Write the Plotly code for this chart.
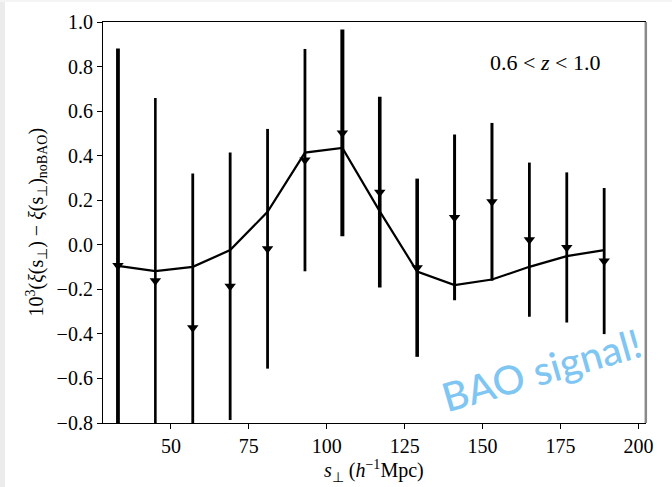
import plotly.graph_objects as go

# Transverse separation bins (h^-1 Mpc)
s_perp = [33, 45, 57, 69, 81, 93, 105, 117, 129, 141, 153, 165, 177, 189]

# Measured BAO feature: 10^3 (xi - xi_noBAO) and 1-sigma errors
xi_meas = [-0.093, -0.162, -0.372, -0.186, -0.018, 0.380, 0.502, 0.236,
           -0.103, 0.123, 0.193, 0.023, -0.012, -0.073]
xi_err = [0.974, 0.821, 0.692, 0.600, 0.538, 0.499, 0.464, 0.428,
          0.400, 0.372, 0.354, 0.346, 0.337, 0.328]

# Best-fit model curve
xi_model = [-0.095, -0.118, -0.099, -0.024, 0.148, 0.414, 0.435, 0.15,
            -0.12, -0.181, -0.156, -0.099, -0.051, -0.024]

# Error bar stroke widths per bin
bar_width = [3.8, 2.6, 2.8, 2.8, 2.8, 2.8, 4.0, 3.6, 3.6, 3.0, 3.0, 2.8, 2.8, 2.8]

y_ticks = [-0.8, -0.6, -0.4, -0.2, 0.0, 0.2, 0.4, 0.6, 0.8, 1.0]
x_ticks = [50, 75, 100, 125, 150, 175, 200]

FONT = "Liberation Serif"

fig = go.Figure()

fig.add_trace(go.Scatter(
    x=s_perp, y=xi_model, mode="lines",
    line=dict(color="black", width=2.2),
    showlegend=False, hoverinfo="skip",
))

for xv, yv, ev, wv in zip(s_perp, xi_meas, xi_err, bar_width):
    fig.add_trace(go.Scatter(
        x=[xv], y=[yv], mode="markers",
        marker=dict(symbol="triangle-down", size=10, color="black"),
        error_y=dict(type="data", array=[ev], visible=True,
                     color="black", thickness=wv, width=0),
        showlegend=False,
    ))

L, R, T, B = 103, 27, 22, 64
W, H = 672, 487
pw, ph = W - L - R, H - T - B

fig.update_layout(
    width=W, height=H,
    margin=dict(l=L, r=R, t=T, b=B),
    paper_bgcolor="white", plot_bgcolor="white",
    font=dict(family=FONT, size=20, color="black"),
    xaxis=dict(
        range=[28.2, 202.1], tickvals=x_ticks, ticks="outside",
        ticklen=5, tickwidth=1, tickcolor="black",
        showline=True, linecolor="black", linewidth=1.2, mirror=True,
        showgrid=False, zeroline=False,
        tickfont=dict(family=FONT, size=20),
    ),
    yaxis=dict(
        range=[-0.8, 1.0], tickvals=y_ticks, tickformat=".1f",
        ticks="outside", ticklen=5, tickwidth=1, tickcolor="black",
        showline=True, linecolor="black", linewidth=1.2, mirror=True,
        showgrid=False, zeroline=False,
        tickfont=dict(family=FONT, size=20),
    ),
    shapes=[
        # grey right frame edge
        dict(type="line", xref="paper", yref="paper", x0=1.0015, x1=1.0015,
             y0=0, y1=1, line=dict(color="#8a8a8a", width=2.5), layer="above"),
        # thin grey page strips
        dict(type="rect", xref="paper", yref="paper",
             x0=-L / pw, x1=(5 - L) / pw, y0=-B / ph, y1=(H - B) / ph,
             fillcolor="#ececec", line=dict(width=0), layer="below"),
        dict(type="rect", xref="paper", yref="paper",
             x0=-L / pw, x1=(W - L) / pw, y0=(H - B - 2) / ph, y1=(H - B) / ph,
             fillcolor="#f4f4f4", line=dict(width=0), layer="below"),
    ],
    annotations=[
        dict(text="0.6 &lt; <i>z</i> &lt; 1.0", xref="paper", yref="paper",
             x=(602 - L) / pw, y=(H - B - 63) / ph, xanchor="right",
             yanchor="middle", showarrow=False,
             font=dict(family=FONT, size=22)),
        dict(text="<i>s</i><sub>⊥</sub> (<i>h</i><sup>−1</sup>Mpc)",
             xref="paper", yref="paper", x=0.5, y=(H - B - 471) / ph,
             xanchor="center", yanchor="middle", showarrow=False,
             font=dict(family=FONT, size=20)),
        dict(text="10<sup>3</sup>(<i>ξ</i>(s<sub>⊥</sub>) − <i>ξ</i>(s<sub>⊥</sub>)<sub>noBAO</sub>)",
             xref="paper", yref="paper", x=(36 - L) / pw, y=0.5,
             xanchor="center", yanchor="middle", textangle=-90,
             showarrow=False, font=dict(family=FONT, size=20)),
        dict(text="BAO signal!", xref="paper", yref="paper",
             x=(541 - L) / pw, y=(H - B - 370) / ph,
             xanchor="center", yanchor="middle", textangle=-16,
             showarrow=False,
             font=dict(family="Lato", size=40, color="#80c6f3", weight=500)),
    ],
)

fig.write_html("out.html")
